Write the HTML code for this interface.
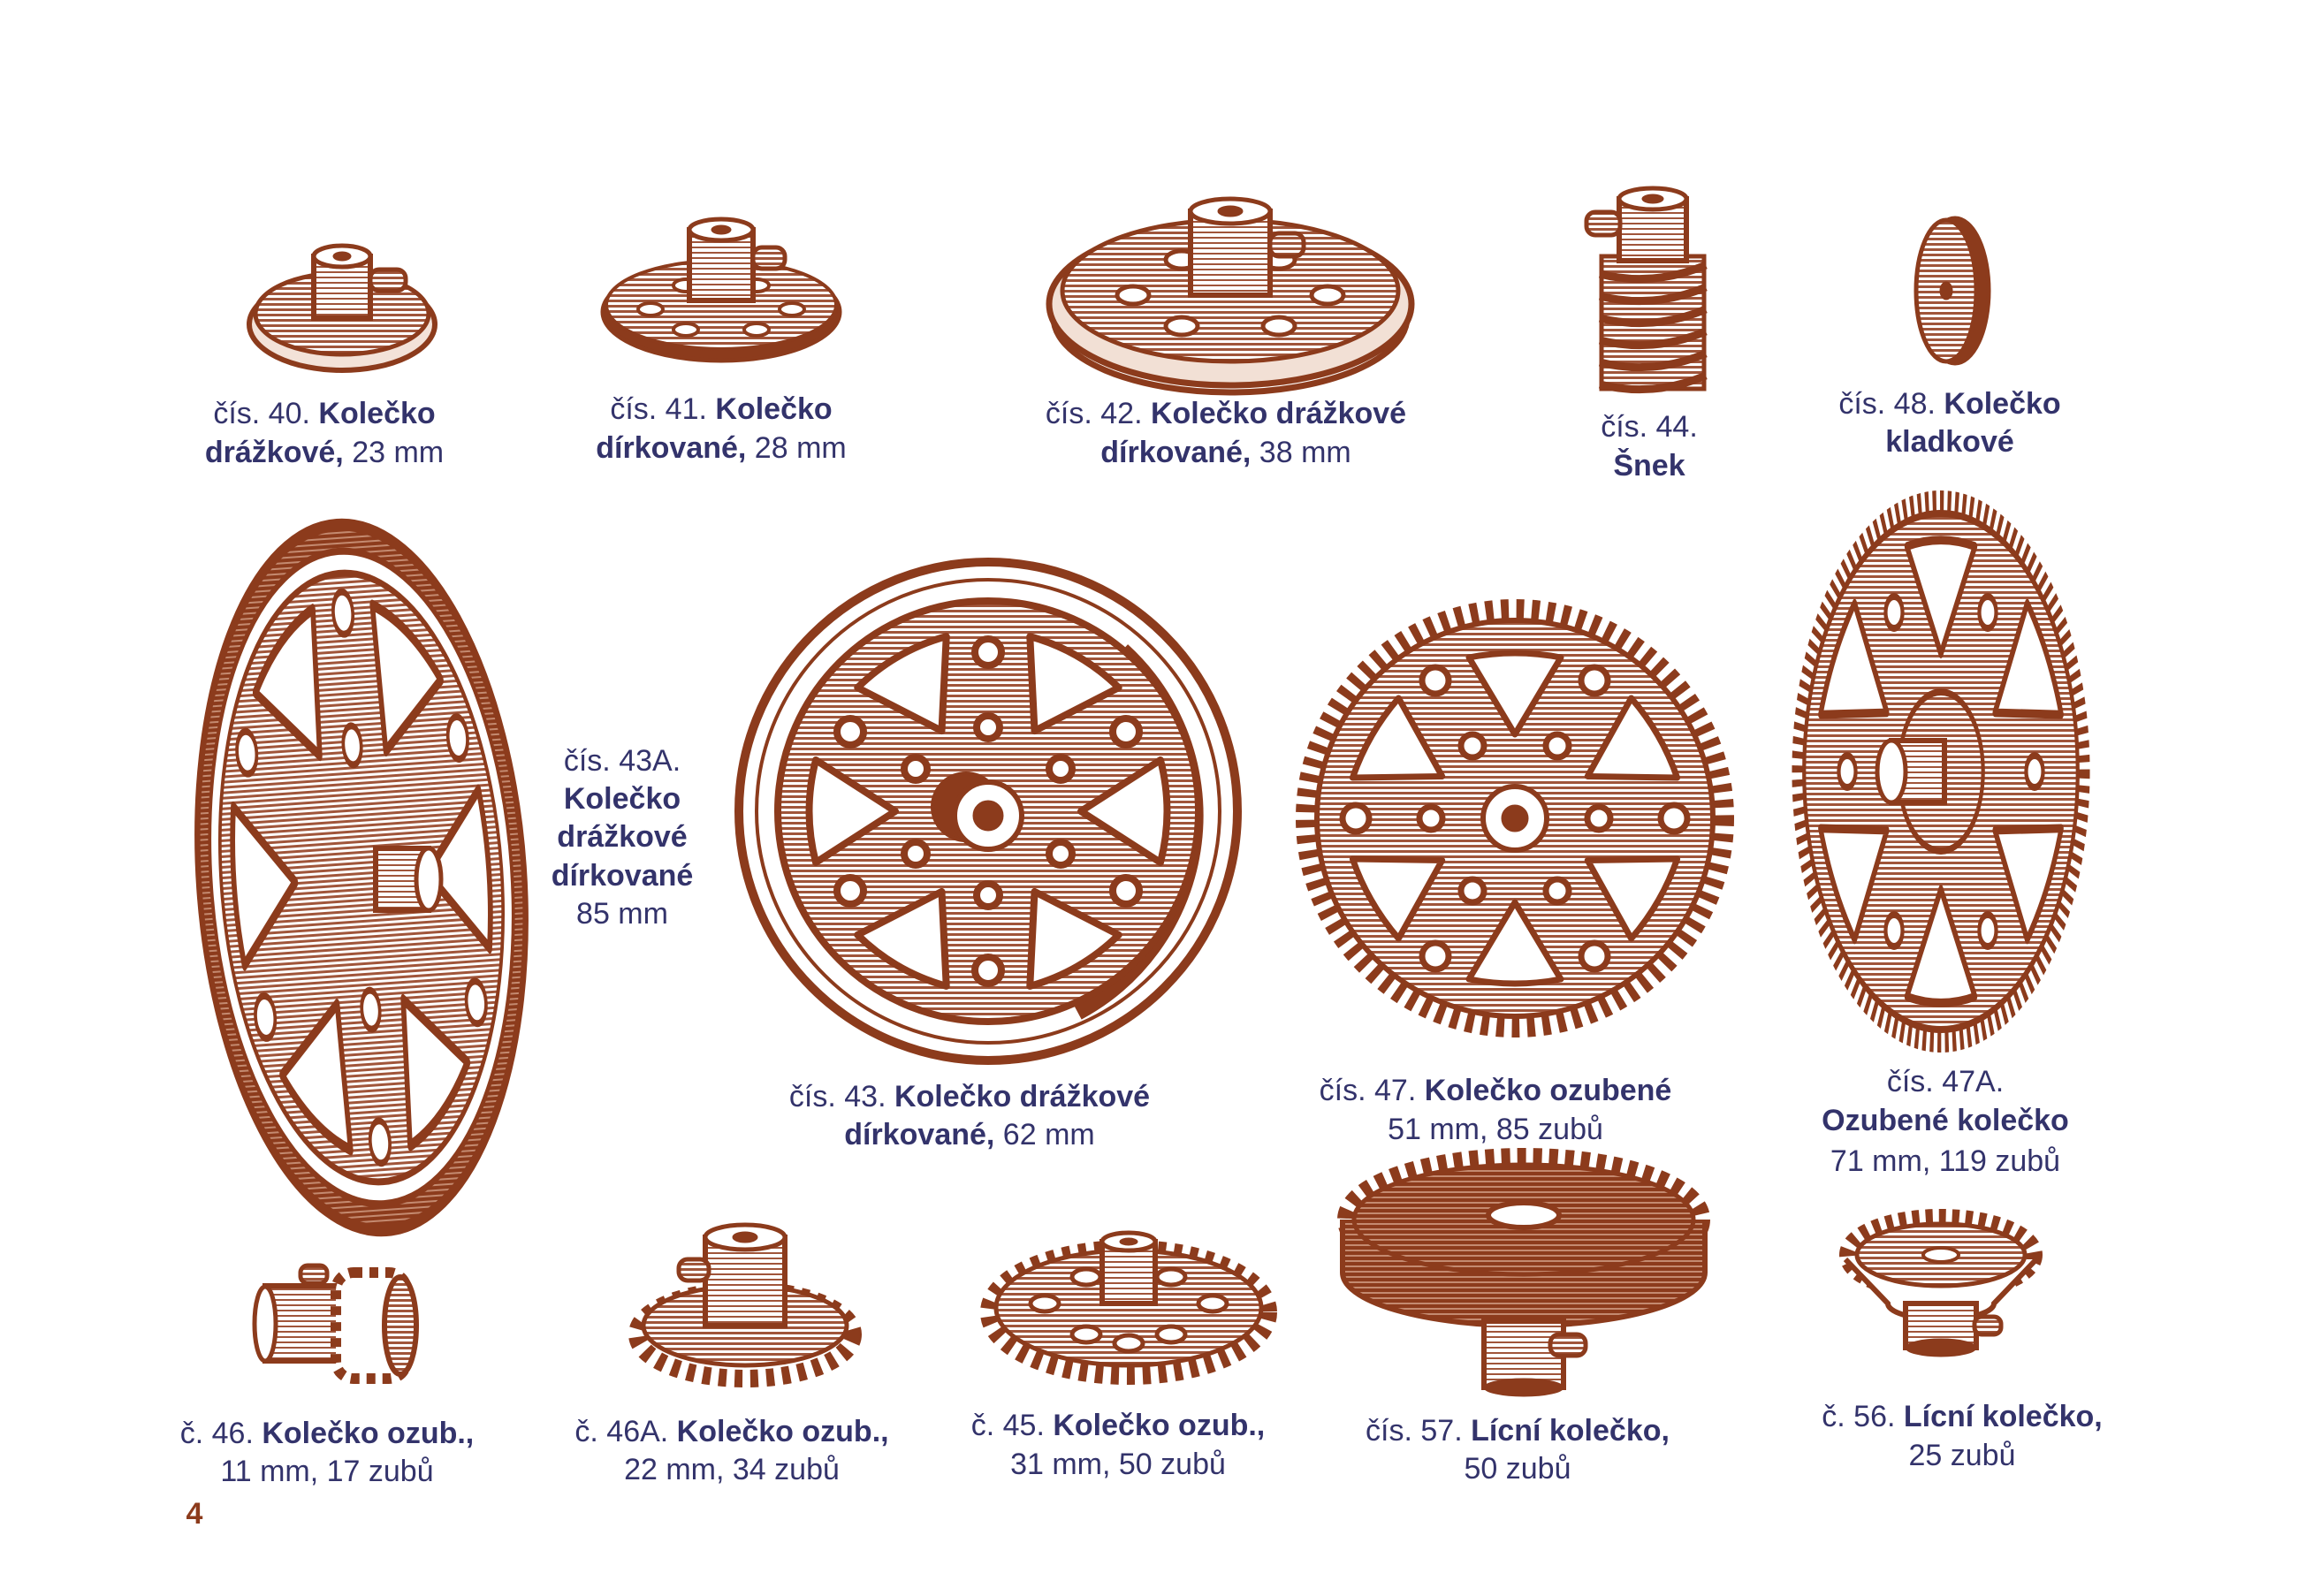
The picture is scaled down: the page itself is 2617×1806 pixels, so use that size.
<!DOCTYPE html>
<html><head><meta charset="utf-8"><style>
html,body{margin:0;padding:0;background:#fff}
svg{display:block}
text{font-family:"Liberation Sans",sans-serif;font-size:34px;fill:#33336b;text-anchor:middle}
.b{font-weight:bold}
</style></head><body>
<svg width="2617" height="1806" viewBox="0 0 2617 1806" xmlns="http://www.w3.org/2000/svg">
<defs>
<pattern id="h" width="6" height="6" patternUnits="userSpaceOnUse"><rect width="6" height="6" fill="#fff"/><rect width="6" height="3" fill="#a0553a"/></pattern>
<pattern id="h2" width="6" height="6" patternUnits="userSpaceOnUse"><rect width="6" height="6" fill="#fff"/><rect width="6" height="2" fill="#a0553a"/></pattern>
<pattern id="h3" width="6" height="6" patternUnits="userSpaceOnUse"><rect width="6" height="6" fill="#c48a70"/><rect width="6" height="4" fill="#8c3b1c"/></pattern>
<path id="tri43" d="M105,0 L195,-58 Q210,0 195,58 Z" fill="#fff" stroke="#8c3b1c" stroke-width="8" stroke-linejoin="round"/>
<path id="tri47" d="M95,0 L182,-52 Q192,0 182,52 Z" fill="#fff" stroke="#8c3b1c" stroke-width="7" stroke-linejoin="round"/>
</defs>
<g fill="none" stroke="#8c3b1c">

<!-- 40 -->
<g transform="translate(387,355)">
<ellipse cx="0" cy="12" rx="105" ry="52" fill="#f3e2d8" stroke-width="6"/>
<ellipse cx="0" cy="0" rx="98" ry="46" fill="url(#h)" stroke-width="5"/>
<rect x="-32" y="-65" width="64" height="70" fill="url(#h2)" stroke-width="6"/>
<ellipse cx="0" cy="-65" rx="32" ry="12" fill="#fff" stroke-width="5"/>
<ellipse cx="0" cy="-65" rx="10" ry="5" fill="#8c3b1c"/>
<rect x="32" y="-50" width="40" height="24" rx="10" fill="url(#h)" stroke-width="5"/>
</g>
<!-- 41 -->
<g transform="translate(816,345)">
<ellipse cx="0" cy="8" rx="134" ry="55" fill="#8c3b1c" stroke-width="5"/>
<ellipse cx="0" cy="0" rx="130" ry="50" fill="url(#h)" stroke-width="4"/>
<g fill="#fff" stroke-width="4"><ellipse cx="-80" cy="5" rx="14" ry="7"/><ellipse cx="80" cy="5" rx="14" ry="7"/><ellipse cx="-40" cy="28" rx="14" ry="7"/><ellipse cx="40" cy="28" rx="14" ry="7"/><ellipse cx="-40" cy="-22" rx="14" ry="7"/><ellipse cx="40" cy="-22" rx="14" ry="7"/></g>
<rect x="-36" y="-85" width="72" height="80" fill="url(#h2)" stroke-width="6"/>
<ellipse cx="0" cy="-85" rx="36" ry="12" fill="#fff" stroke-width="5"/>
<ellipse cx="0" cy="-85" rx="11" ry="5" fill="#8c3b1c"/>
<rect x="36" y="-65" width="36" height="24" rx="10" fill="url(#h)" stroke-width="5"/>
</g>
<!-- 42 -->
<g transform="translate(1392,334)">
<ellipse cx="0" cy="25" rx="200" ry="85" fill="#fff" stroke-width="7"/>
<ellipse cx="0" cy="10" rx="205" ry="92" fill="#f2e0d5" stroke-width="7"/>
<ellipse cx="0" cy="-5" rx="190" ry="80" fill="url(#h)" stroke-width="5"/>
<g fill="#fff" stroke-width="5"><ellipse cx="-110" cy="0" rx="18" ry="10"/><ellipse cx="110" cy="0" rx="18" ry="10"/><ellipse cx="-55" cy="35" rx="18" ry="10"/><ellipse cx="55" cy="35" rx="18" ry="10"/><ellipse cx="-55" cy="-40" rx="18" ry="10"/><ellipse cx="55" cy="-40" rx="18" ry="10"/></g>
<rect x="-45" y="-95" width="90" height="95" fill="url(#h2)" stroke-width="6"/>
<ellipse cx="0" cy="-95" rx="45" ry="14" fill="#fff" stroke-width="5"/>
<ellipse cx="0" cy="-95" rx="14" ry="6" fill="#8c3b1c"/>
<rect x="45" y="-70" width="38" height="26" rx="10" fill="url(#h)" stroke-width="5"/>
</g>
<!-- 44 worm -->
<g transform="translate(1870,330)">
<rect x="-58" y="-40" width="116" height="150" fill="url(#h)" stroke-width="5"/>
<g stroke-width="9"><path d="M-60,-20 Q0,-5 60,-30"/><path d="M-60,5 Q0,20 60,-5"/><path d="M-60,30 Q0,45 60,20"/><path d="M-60,55 Q0,70 60,45"/><path d="M-60,80 Q0,95 60,70"/><path d="M-60,105 Q0,120 60,95"/></g>
<rect x="-38" y="-105" width="76" height="70" fill="url(#h2)" stroke-width="6"/>
<ellipse cx="0" cy="-105" rx="38" ry="12" fill="#fff" stroke-width="5"/>
<ellipse cx="0" cy="-105" rx="12" ry="5" fill="#8c3b1c"/>
<rect x="-75" y="-90" width="38" height="26" rx="10" fill="url(#h)" stroke-width="5"/>
</g>
<!-- 48 -->
<g transform="translate(2206,329)">
<ellipse cx="6" cy="0" rx="38" ry="82" fill="#8c3b1c" stroke-width="5"/>
<ellipse cx="-4" cy="0" rx="34" ry="80" fill="url(#h)" stroke-width="5"/>
<ellipse cx="-4" cy="0" rx="7" ry="10" fill="#8c3b1c"/>
</g>

<!-- 43A -->
<g transform="translate(409,993) rotate(-4) scale(0.46,1)">
<circle r="400" fill="url(#h3)" stroke-width="14"/>
<circle r="370" fill="#fff" stroke-width="8"/>
<circle r="345" fill="url(#h)" stroke-width="8"/>
<g transform="scale(1.55)">
<use href="#tri43" transform="rotate(0)"/>
<use href="#tri43" transform="rotate(60)"/>
<use href="#tri43" transform="rotate(120)"/>
<use href="#tri43" transform="rotate(180)"/>
<use href="#tri43" transform="rotate(240)"/>
<use href="#tri43" transform="rotate(300)"/>
</g>
<g fill="#fff" stroke-width="8"><circle cx="0" cy="-300" r="24"/><circle cx="0" cy="300" r="24"/><circle cx="0" cy="-150" r="22"/><circle cx="0" cy="150" r="22"/><circle cx="-260" cy="-150" r="24"/><circle cx="260" cy="150" r="24"/><circle cx="-260" cy="150" r="24"/><circle cx="260" cy="-150" r="24"/></g>
</g>
<g transform="translate(455,990)">
<rect x="-30" y="-30" width="60" height="70" fill="url(#h2)" stroke-width="6"/>
<ellipse cx="30" cy="5" rx="14" ry="35" fill="#fff" stroke-width="5"/>
</g>

<!-- 43 -->
<g transform="translate(1118,918)">
<circle r="282" fill="#fff" stroke-width="10"/>
<circle r="262" fill="none" stroke-width="4"/>
<path d="M150,-180 A250,250 0 0 1 100,225" stroke-width="24"/>
<circle r="238" fill="url(#h)" stroke-width="8"/>
<use href="#tri43" transform="rotate(0)"/>
<use href="#tri43" transform="rotate(60)"/>
<use href="#tri43" transform="rotate(120)"/>
<use href="#tri43" transform="rotate(180)"/>
<use href="#tri43" transform="rotate(240)"/>
<use href="#tri43" transform="rotate(300)"/>
<g fill="#fff" stroke-width="8">
<circle cx="0" cy="-180" r="15"/><circle cx="0" cy="180" r="15"/><circle cx="-156" cy="-90" r="15"/><circle cx="156" cy="-90" r="15"/><circle cx="-156" cy="90" r="15"/><circle cx="156" cy="90" r="15"/>
<circle cx="0" cy="-95" r="13"/><circle cx="0" cy="95" r="13"/><circle cx="-82" cy="-48" r="13"/><circle cx="82" cy="-48" r="13"/><circle cx="-82" cy="48" r="13"/><circle cx="82" cy="48" r="13"/></g>
<circle cx="-25" cy="-5" r="38" fill="#8c3b1c" stroke-width="4"/>
<circle cx="0" cy="5" r="38" fill="#fff" stroke-width="6"/>
<circle cx="0" cy="5" r="17" fill="#8c3b1c"/>
</g>

<!-- 47 -->
<g transform="translate(1714,926)">
<circle r="236" fill="none" stroke-width="24" stroke-dasharray="8.7 8.7"/>
<circle r="224" fill="url(#h)" stroke-width="6"/>
<use href="#tri47" transform="rotate(-90)"/>
<use href="#tri47" transform="rotate(-30)"/>
<use href="#tri47" transform="rotate(30)"/>
<use href="#tri47" transform="rotate(90)"/>
<use href="#tri47" transform="rotate(150)"/>
<use href="#tri47" transform="rotate(210)"/>
<g fill="#fff" stroke-width="7">
<circle cx="-90" cy="-156" r="15"/><circle cx="90" cy="-156" r="15"/><circle cx="-180" cy="0" r="15"/><circle cx="180" cy="0" r="15"/><circle cx="-90" cy="156" r="15"/><circle cx="90" cy="156" r="15"/>
<circle cx="-48" cy="-82" r="13"/><circle cx="48" cy="-82" r="13"/><circle cx="-95" cy="0" r="13"/><circle cx="95" cy="0" r="13"/><circle cx="-48" cy="82" r="13"/><circle cx="48" cy="82" r="13"/></g>
<circle r="36" fill="#fff" stroke-width="6"/>
<circle r="15" fill="#8c3b1c"/>
</g>

<!-- 47A -->
<g transform="translate(2196,873) scale(0.53,1)">
<circle r="306" fill="none" stroke-width="24" stroke-dasharray="8 8"/>
<circle r="292" fill="url(#h)" stroke-width="8"/>
<g transform="scale(1.4)">
<use href="#tri47" transform="rotate(-90)"/>
<use href="#tri47" transform="rotate(-30)"/>
<use href="#tri47" transform="rotate(30)"/>
<use href="#tri47" transform="rotate(90)"/>
<use href="#tri47" transform="rotate(150)"/>
<use href="#tri47" transform="rotate(210)"/>
</g>
<circle r="90" fill="url(#h)" stroke-width="8"/>
<g fill="#fff" stroke-width="8"><circle cx="-200" cy="0" r="18"/><circle cx="200" cy="0" r="18"/><circle cx="-100" cy="-180" r="18"/><circle cx="100" cy="180" r="18"/><circle cx="-100" cy="180" r="18"/><circle cx="100" cy="-180" r="18"/></g>
</g>
<g transform="translate(2160,873)">
<rect x="-20" y="-35" width="60" height="70" fill="url(#h2)" stroke-width="6"/>
<ellipse cx="-20" cy="0" rx="16" ry="35" fill="#fff" stroke-width="5"/>
</g>

<!-- 46 -->
<g transform="translate(385,1500)">
<rect x="-85" y="-45" width="110" height="85" fill="url(#h2)" stroke-width="6"/>
<ellipse cx="-85" cy="-2" rx="12" ry="42" fill="#fff" stroke-width="5"/>
<rect x="-5" y="-60" width="80" height="120" rx="20" fill="#fff" stroke-width="12" stroke-dasharray="10 8"/>
<ellipse cx="68" cy="0" rx="18" ry="55" fill="url(#h)" stroke-width="6"/>
<rect x="-45" y="-68" width="30" height="20" rx="8" fill="url(#h)" stroke-width="5"/>
</g>
<!-- 46A -->
<g transform="translate(843,1495)">
<ellipse cx="0" cy="15" rx="122" ry="50" fill="none" stroke-width="20" stroke-dasharray="9 9"/>
<ellipse cx="0" cy="5" rx="115" ry="45" fill="url(#h)" stroke-width="5"/>
<rect x="-45" y="-95" width="90" height="100" fill="url(#h2)" stroke-width="6"/>
<ellipse cx="0" cy="-95" rx="45" ry="14" fill="#fff" stroke-width="5"/>
<ellipse cx="0" cy="-95" rx="14" ry="6" fill="#8c3b1c"/>
<rect x="-75" y="-70" width="34" height="24" rx="10" fill="url(#h)" stroke-width="5"/>
</g>
<!-- 45 -->
<g transform="translate(1277,1475)">
<ellipse cx="0" cy="10" rx="158" ry="72" fill="none" stroke-width="20" stroke-dasharray="9 9"/>
<ellipse cx="0" cy="5" rx="150" ry="65" fill="url(#h)" stroke-width="5"/>
<g fill="#fff" stroke-width="5"><ellipse cx="-95" cy="0" rx="16" ry="9"/><ellipse cx="95" cy="0" rx="16" ry="9"/><ellipse cx="-48" cy="35" rx="16" ry="9"/><ellipse cx="48" cy="35" rx="16" ry="9"/><ellipse cx="0" cy="45" rx="16" ry="9"/><ellipse cx="-48" cy="-30" rx="16" ry="9"/><ellipse cx="48" cy="-30" rx="16" ry="9"/></g>
<rect x="-30" y="-70" width="60" height="70" fill="url(#h2)" stroke-width="6"/>
<ellipse cx="0" cy="-70" rx="30" ry="10" fill="#fff" stroke-width="5"/>
<ellipse cx="0" cy="-70" rx="10" ry="4" fill="#8c3b1c"/>
</g>
<!-- 57 -->
<g transform="translate(1724,1410)">
<ellipse cx="0" cy="-30" rx="200" ry="70" fill="none" stroke-width="22" stroke-dasharray="10 8"/>
<path d="M-205,-30 L-205,30 A205,60 0 0 0 205,30 L205,-30" fill="url(#h3)" stroke-width="6"/>
<ellipse cx="0" cy="-30" rx="192" ry="62" fill="url(#h3)" stroke-width="5"/>
<ellipse cx="0" cy="-35" rx="40" ry="14" fill="#fff" stroke-width="6"/>
<rect x="-45" y="85" width="90" height="75" fill="url(#h2)" stroke-width="6"/>
<ellipse cx="0" cy="160" rx="45" ry="10" fill="#8c3b1c"/>
<rect x="30" y="100" width="40" height="24" rx="10" fill="url(#h)" stroke-width="5"/>
</g>
<!-- 56 -->
<g transform="translate(2196,1440)">
<ellipse cx="0" cy="-20" rx="105" ry="42" fill="none" stroke-width="20" stroke-dasharray="8 7"/>
<path d="M-108,-15 L-60,35 A60,18 0 0 0 60,35 L108,-15" fill="#fff" stroke-width="6"/>
<ellipse cx="0" cy="-20" rx="95" ry="35" fill="url(#h)" stroke-width="5"/>
<ellipse cx="0" cy="-20" rx="20" ry="8" fill="#fff" stroke-width="4"/>
<rect x="-40" y="35" width="80" height="50" fill="url(#h2)" stroke-width="6"/>
<ellipse cx="0" cy="85" rx="40" ry="10" fill="#8c3b1c"/>
<rect x="38" y="50" width="30" height="20" rx="8" fill="url(#h)" stroke-width="5"/>
</g>
</g>

<!-- labels -->
<text x="367" y="479">čís. 40. <tspan class="b">Kolečko</tspan></text>
<text x="367" y="523"><tspan class="b">drážkové,</tspan> 23 mm</text>
<text x="816" y="474">čís. 41. <tspan class="b">Kolečko</tspan></text>
<text x="816" y="518"><tspan class="b">dírkované,</tspan> 28 mm</text>
<text x="1387" y="479">čís. 42. <tspan class="b">Kolečko drážkové</tspan></text>
<text x="1387" y="523"><tspan class="b">dírkované,</tspan> 38 mm</text>
<text x="1866" y="494">čís. 44.</text>
<text x="1866" y="538" class="b">Šnek</text>
<text x="2206" y="468">čís. 48. <tspan class="b">Kolečko</tspan></text>
<text x="2206" y="511" class="b">kladkové</text>
<text x="704" y="872">čís. 43A.</text>
<text x="704" y="915" class="b">Kolečko</text>
<text x="704" y="958" class="b">drážkové</text>
<text x="704" y="1002" class="b">dírkované</text>
<text x="704" y="1045">85 mm</text>
<text x="1097" y="1252">čís. 43. <tspan class="b">Kolečko drážkové</tspan></text>
<text x="1097" y="1295"><tspan class="b">dírkované,</tspan> 62 mm</text>
<text x="1692" y="1245">čís. 47. <tspan class="b">Kolečko ozubené</tspan></text>
<text x="1692" y="1289">51 mm, 85 zubů</text>
<text x="2201" y="1235">čís. 47A.</text>
<text x="2201" y="1279" class="b">Ozubené kolečko</text>
<text x="2201" y="1325">71 mm, 119 zubů</text>
<text x="370" y="1633">č. 46. <tspan class="b">Kolečko ozub.,</tspan></text>
<text x="370" y="1676">11 mm, 17 zubů</text>
<text x="828" y="1631">č. 46A. <tspan class="b">Kolečko ozub.,</tspan></text>
<text x="828" y="1674">22 mm, 34 zubů</text>
<text x="1265" y="1624">č. 45. <tspan class="b">Kolečko ozub.,</tspan></text>
<text x="1265" y="1668">31 mm, 50 zubů</text>
<text x="1717" y="1630">čís. 57. <tspan class="b">Lícní kolečko,</tspan></text>
<text x="1717" y="1673">50 zubů</text>
<text x="2220" y="1614">č. 56. <tspan class="b">Lícní kolečko,</tspan></text>
<text x="2220" y="1658">25 zubů</text>
<text x="220" y="1724" class="b" style="fill:#8c3b1c">4</text>
</svg>
</body></html>
